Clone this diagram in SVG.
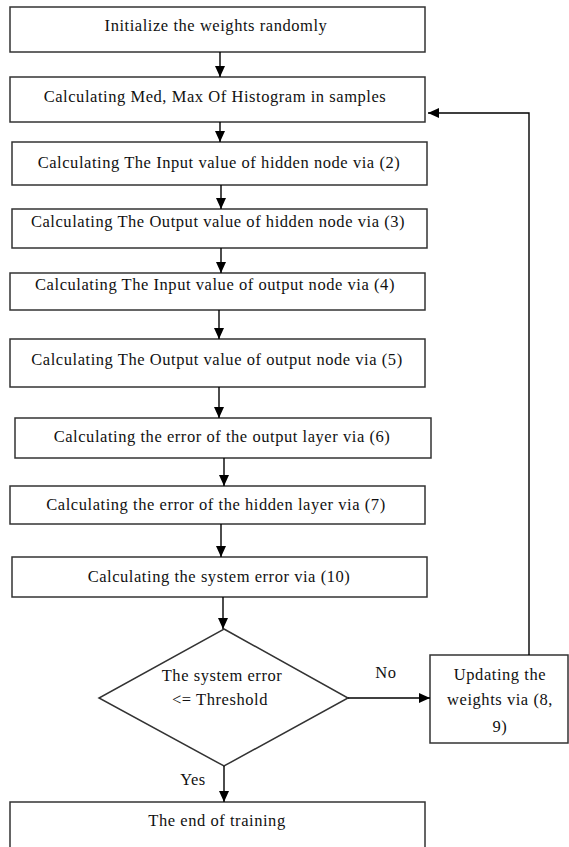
<svg xmlns="http://www.w3.org/2000/svg" width="569" height="847" viewBox="0 0 569 847">
  <style>
    .box { fill: #ffffff; stroke: #333333; stroke-width: 1.5; }
    .lbl { font-family: "Liberation Serif", "Times New Roman", serif; font-size: 16.5px; letter-spacing: 0.55px; fill: #111111; text-anchor: middle; }
    .edge { fill: none; stroke: #000000; stroke-width: 1.4; marker-end: url(#head); }
  </style>
  <defs>
    <marker id="head" markerUnits="userSpaceOnUse" markerWidth="11" markerHeight="10" refX="11" refY="5" orient="auto">
      <path d="M0,0 L11,5 L0,10 Z" fill="#000000"/>
    </marker>
  </defs>
  <rect width="569" height="847" fill="#ffffff"/>

  <g id="init">
    <rect class="box" x="10" y="7" width="415" height="45"/>
    <text class="lbl" x="216" y="31">Initialize the weights randomly</text>
  </g>
  <g id="histogram">
    <rect class="box" x="10" y="77" width="415" height="45"/>
    <text class="lbl" x="215" y="102">Calculating Med, Max Of Histogram in samples</text>
  </g>
  <g id="hidden-input">
    <rect class="box" x="12" y="142" width="415" height="43"/>
    <text class="lbl" x="219" y="168">Calculating The Input value of hidden node via (2)</text>
  </g>
  <g id="hidden-output">
    <rect class="box" x="12" y="209" width="415" height="39"/>
    <text class="lbl" x="218" y="227">Calculating The Output value of hidden node via (3)</text>
  </g>
  <g id="out-input">
    <rect class="box" x="10" y="273" width="415" height="37"/>
    <text class="lbl" x="215" y="290">Calculating The Input value of output node via (4)</text>
  </g>
  <g id="out-output">
    <rect class="box" x="10" y="339" width="415" height="48"/>
    <text class="lbl" x="217" y="365">Calculating The Output value of output node via (5)</text>
  </g>
  <g id="err-output">
    <rect class="box" x="15" y="418" width="416" height="40"/>
    <text class="lbl" x="222" y="442">Calculating the error of the output layer via (6)</text>
  </g>
  <g id="err-hidden">
    <rect class="box" x="10" y="486" width="415" height="38"/>
    <text class="lbl" x="216" y="510">Calculating the error of the hidden layer via (7)</text>
  </g>
  <g id="err-system">
    <rect class="box" x="12" y="557" width="415" height="40"/>
    <text class="lbl" x="219" y="582">Calculating the system error via (10)</text>
  </g>
  <g id="check">
    <polygon class="box" points="224,629 348,698 224,766 99,698"/>
    <text class="lbl" x="222" y="681">The system error</text>
    <text class="lbl" x="220" y="705">&lt;= Threshold</text>
  </g>
  <g id="update">
    <rect class="box" x="430" y="655" width="138" height="88"/>
    <text class="lbl" x="500" y="680">Updating the</text>
    <text class="lbl" x="500" y="705">weights via (8,</text>
    <text class="lbl" x="500" y="732">9)</text>
  </g>
  <g id="end">
    <rect class="box" x="10" y="802" width="415" height="60"/>
    <text class="lbl" x="217" y="826">The end of training</text>
  </g>

  <g id="connectors">
    <line class="edge" x1="220" y1="52" x2="220" y2="77"/>
    <line class="edge" x1="220" y1="122" x2="220" y2="142"/>
    <line class="edge" x1="221" y1="185" x2="221" y2="209"/>
    <line class="edge" x1="221" y1="248" x2="221" y2="273"/>
    <line class="edge" x1="219" y1="310" x2="219" y2="339"/>
    <line class="edge" x1="219" y1="387" x2="219" y2="418"/>
    <line class="edge" x1="224" y1="458" x2="224" y2="486"/>
    <line class="edge" x1="221" y1="524" x2="221" y2="557"/>
    <line class="edge" x1="223" y1="597" x2="223" y2="629"/>
    <line class="edge" x1="224" y1="766" x2="224" y2="802"/>
    <line class="edge" x1="348" y1="698" x2="430" y2="698"/>
    <polyline class="edge" points="529,655 529,113 428,113"/>
    <text class="lbl" x="386" y="678">No</text>
    <text class="lbl" x="193" y="785">Yes</text>
  </g>
</svg>
